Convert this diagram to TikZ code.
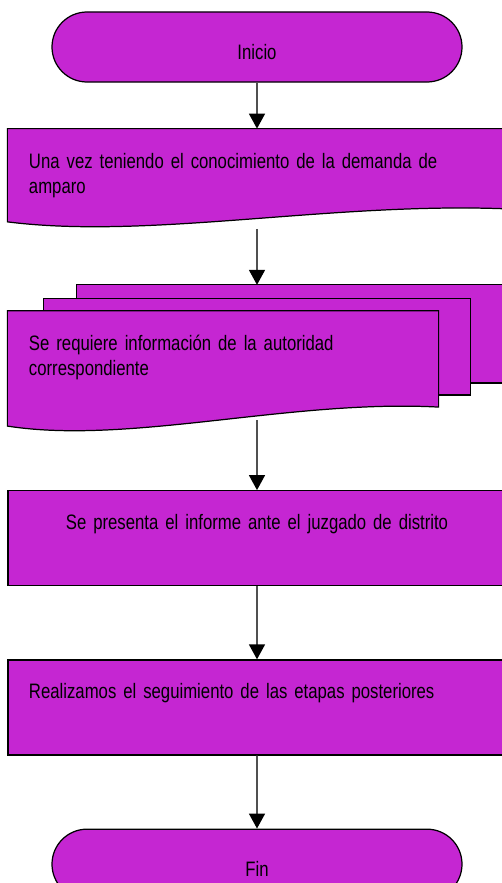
\documentclass[tikz,border=0pt]{standalone}
\usepackage{fontspec}
\setmainfont{Liberation Sans}[FakeStretch=0.80]
\usetikzlibrary{shapes.misc,arrows.meta,positioning,backgrounds}

\definecolor{flowpurple}{RGB}{197,38,210}
\definecolor{linegray}{RGB}{80,80,80}

\begin{document}
\begin{tikzpicture}[x=0.2mm, y=-0.2mm, node distance=9.2mm,
  every node/.style={font=\fontsize{11.9}{14.5}\selectfont},
  term/.style={draw, line width=0.7pt, fill=flowpurple, rounded rectangle, minimum width=82mm, minimum height=14mm, text height=5mm, text depth=0pt, inner sep=0pt},
  proc/.style={draw, line width=0.7pt, fill=flowpurple, rectangle, text width=91.2mm, inner xsep=4.2mm, inner ysep=0pt, text height=7.8mm, text depth=11.2mm},
  docpage/.style={draw, fill=flowpurple, line width=0.7pt},
  flow/.style={draw=linegray, line width=0.9pt, -{Triangle[width=3.2mm, length=3mm, black]}}]
\useasboundingbox (0,0) rectangle (501,883);

\node (inicio) [term] at (257,47) {Inicio};
\node (conoce) [proc, draw=none, fill=none, align=left, text depth=12mm, below=of inicio] {Una vez teniendo el conocimiento de la demanda de\\amparo};
\node (req) [proc, draw=none, fill=none, align=left, text width=77.6mm, text depth=13.8mm, below=16.4mm of conoce.south west, anchor=north west] {Se requiere información de la autoridad\\correspondiente};
\node (informe) [proc, align=center, below=14mm of req.south west, anchor=north west] {Se presenta el informe ante el juzgado de distrito};
\node (seguimiento) [proc, align=left, below=14.6mm of informe] {Realizamos el seguimiento de las etapas posteriores};
\node (fin) [term, below=14.6mm of seguimiento] {Fin};

% document outlines behind the text
\begin{scope}[on background layer]
\draw[docpage] (conoce.north west) -- (conoce.north east) -- ([yshift=4mm]conoce.south east) .. controls +(-176,-7) and +(142,18) .. ([yshift=1.4mm]conoce.south west) -- cycle;
\draw[docpage] ([xshift=13.8mm,yshift=5.2mm]req.north west) coordinate (back nw) rectangle ([xshift=14.4mm,yshift=7.4mm]req.south east);
\draw[docpage] ([xshift=7.2mm,yshift=2.4mm]req.north west) rectangle ([xshift=6.4mm,yshift=5mm]req.south east);
\draw[docpage] (req.north west) -- (req.north east) -- ([yshift=2.6mm]req.south east) .. controls +(-148,-8) and +(122,19) .. ([yshift=-1.2mm]req.south west) -- cycle;
\end{scope}

\draw[flow] (inicio) -- (conoce);
\draw[flow] (conoce) -- (conoce.south |- back nw);
\draw[flow] (req.south -| conoce.south) -- (informe);
\draw[flow] (informe) -- (seguimiento);
\draw[flow] (seguimiento) -- (fin);
\end{tikzpicture}
\end{document}
